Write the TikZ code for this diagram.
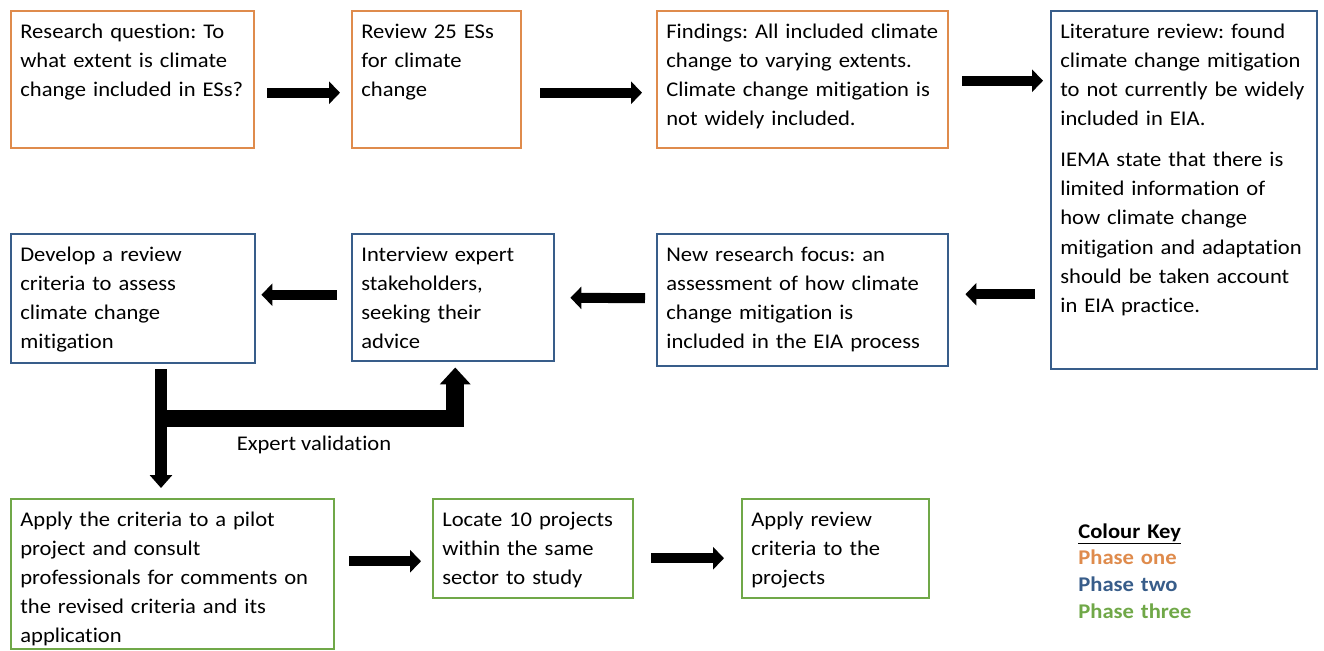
\documentclass[tikz,border=0pt]{standalone}
\usepackage{fontspec}
\setmainfont{Carlito}[FakeStretch=1.08, Ligatures=NoCommon]
\usetikzlibrary{arrows.meta,calc}

\definecolor{phaseone}{RGB}{223,139,76}
\definecolor{phasetwo}{RGB}{56,93,138}
\definecolor{phasethree}{RGB}{112,168,72}
\newdimen\pxl
\pxl=0.02cm
\newcommand{\bodyfont}{\fontsize{11.9}{16.6}\selectfont}
\frenchspacing

\tikzset{
    stage/.style={draw=#1, line width=1.4pt, anchor=north west, inner sep=0pt},
    txt/.style={anchor=base west, align=left, inner sep=0pt, text width=7cm, font=\bodyfont},
    flow/.style={line width=5.7pt, -{Triangle[length=6.2pt, width=12.5pt]}},
    feed/.style={line width=6.8pt, -{Triangle[length=7.4pt, width=12.5pt]}},
    check/.style={line width=10.2pt, line join=miter, -{Triangle[length=9.6pt, width=17pt]}},
}

\begin{document}
\begin{tikzpicture}[x=0.02cm, y=-0.02cm]
    \fill[white] (0,0) rectangle (1324,650);
    \useasboundingbox (0,0) rectangle (1324,650);

    % phase one
    \node[stage=phaseone, minimum width=243\pxl, minimum height=137\pxl] (question) at (10,10) {};
    \node[stage=phaseone, minimum width=169\pxl, minimum height=137\pxl] (review) at (351,10) {};
    \node[stage=phaseone, minimum width=291\pxl, minimum height=137\pxl] (findings) at (656,10) {};
    \node[txt] (questiontxt) at ($(question.north west)+(10,28)$) {Research question: To\\what extent is climate\\change included in ESs?};
    \node[txt] (reviewtxt) at ($(review.north west)+(10,28)$) {Review 25 ESs\\for climate\\change};
    \node[txt] (findingstxt) at ($(findings.north west)+(10,28)$) {Findings: All included climate\\change to varying extents.\\Climate change mitigation is\\not widely included.};

    % phase two
    \node[stage=phasetwo, minimum width=266\pxl, minimum height=358\pxl] (litrev) at (1050,10) {};
    \node[stage=phasetwo, minimum width=291\pxl, minimum height=132\pxl] (focus) at (656,233) {};
    \node[stage=phasetwo, minimum width=202\pxl, minimum height=127\pxl] (interview) at (351,233) {};
    \node[stage=phasetwo, minimum width=244\pxl, minimum height=129\pxl] (develop) at (10,233) {};
    \node[txt] (litrevtxt) at ($(litrev.north west)+(10,28)$) {Literature review: found\\climate change mitigation\\to not currently be widely\\included in EIA.\\[6.8pt]IEMA state that there is\\limited information of\\how climate change\\mitigation and adaptation\\should be taken account\\in EIA practice.};
    \node[txt] (focustxt) at ($(focus.north west)+(10,28)$) {New research focus: an\\assessment of how climate\\change mitigation is\\included in the EIA process};
    \node[txt] (interviewtxt) at ($(interview.north west)+(10,28)$) {Interview expert\\stakeholders,\\seeking their\\advice};
    \node[txt] (developtxt) at ($(develop.north west)+(10,28)$) {Develop a review\\criteria to assess\\climate change\\mitigation};

    % phase three
    \node[stage=phasethree, minimum width=323\pxl, minimum height=150\pxl] (pilot) at (10,498) {};
    \node[stage=phasethree, minimum width=200\pxl, minimum height=99\pxl] (locate) at (432,498) {};
    \node[stage=phasethree, minimum width=187\pxl, minimum height=99\pxl] (applyrev) at (741,498) {};
    \node[txt] (pilottxt) at ($(pilot.north west)+(10,28)$) {Apply the criteria to a pilot\\project and consult\\professionals for comments on\\the revised criteria and its\\application};
    \node[txt] (locatetxt) at ($(locate.north west)+(10,28)$) {Locate 10 projects\\within the same\\sector to study};
    \node[txt] (applyrevtxt) at ($(applyrev.north west)+(10,28)$) {Apply review\\criteria to the\\projects};

    % arrows
    \draw[flow] ($(question.east)+(12,13)$) -- ($(review.west)+(-11,13)$);
    \draw[flow] ($(review.east)+(18,13)$) -- ($(findings.west)+(-14,13)$);
    \draw[flow] ($(findings.east)+(13,1)$) -- ($(litrev.west |- findings.east)+(-7,1)$);
    \draw[flow] ($(litrev.west |- focus.east)+(-15,-6)$) -- ($(focus.east)+(16,-6)$);
    \draw[flow] ($(focus.west)+(-11,-2)$) -- ($(interview.east)+(15,0)$);
    \draw[flow] ($(interview.west)+(-14,-3)$) -- ($(develop.east)+(5,-4)$);
    \draw[feed] ($(develop.south west)+(151,5)$) -- ($(pilot.north west)+(151,-10)$);
    \draw[check] ($(develop.south west)+(145,54)$) -| ($(interview.south)+(2,5)$);
    \node[font=\bodyfont, anchor=base] (expert) at (314,450) {Expert validation};
    \draw[flow] ($(pilot.east)+(14,-13)$) -- ($(locate.west |- pilot.east)+(-11,-13)$);
    \draw[flow] ($(locate.east)+(17,9.5)$) -- ($(applyrev.west)+(-17,9.5)$);

    % key
    \node[anchor=base west, align=left, inner sep=0pt, text width=4cm, font=\bfseries\fontsize{11.9}{15.3}\selectfont] (key) at (1078,538) {\underline{Colour Key}\\\textcolor{phaseone}{Phase one}\\\textcolor{phasetwo}{Phase two}\\\textcolor{phasethree}{Phase three}};
\end{tikzpicture}
\end{document}
